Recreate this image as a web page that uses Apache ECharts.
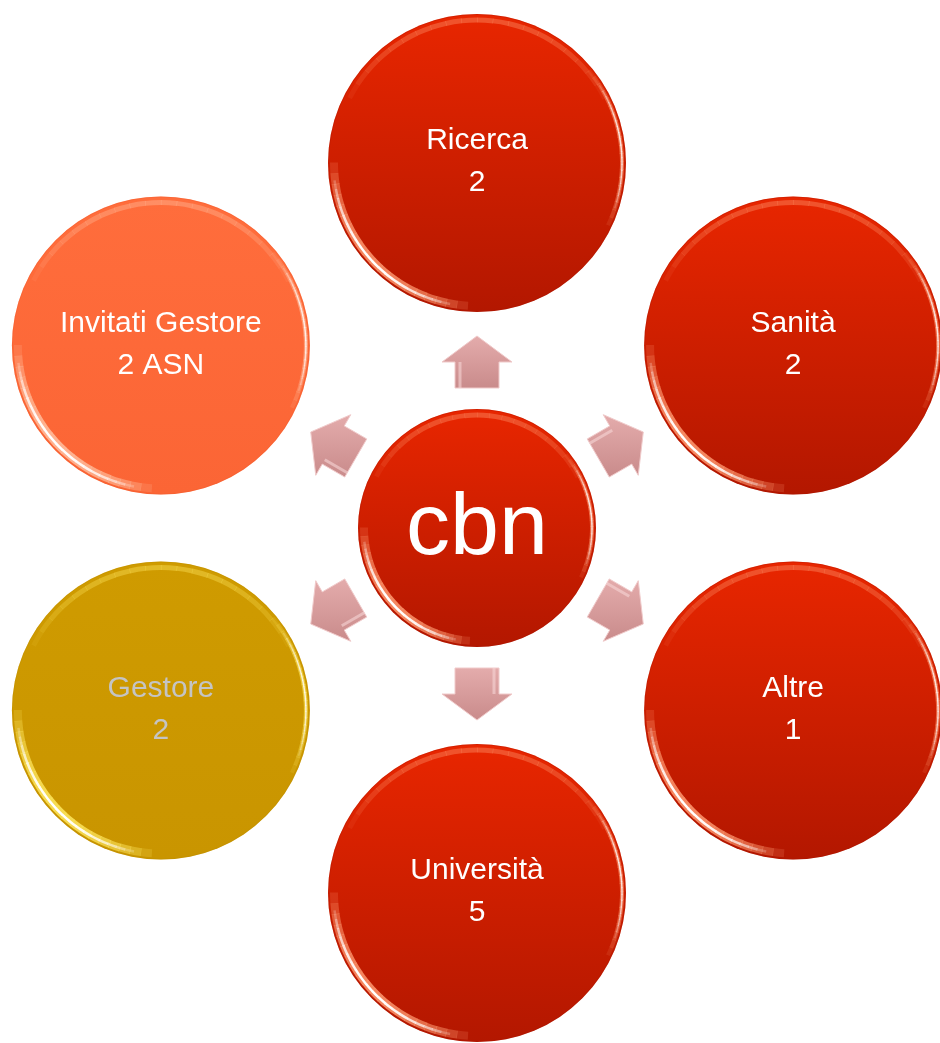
<!DOCTYPE html>
<html><head><meta charset="utf-8">
<script src="https://cdn.jsdelivr.net/npm/echarts@6/dist/echarts.min.js"></script>
<style>html,body{margin:0;padding:0;background:#fff}#c{width:940px;height:1043px}</style>
</head><body><div id="c"></div>
<script>
// ---- data ----
const centerLabel = 'cbn';
const categories = ['Ricerca', 'Sanità', 'Altre', 'Università', 'Gestore', 'Invitati Gestore'];
const values = [2, 2, 1, 5, 2, 2];
const valueSuffix = ['', '', '', '', '', ' ASN'];
const groups = ['red', 'red', 'red', 'red', 'gold', 'orange'];

// ---- styles ----
const palette = {
  red:    { top: '#e82600', bottom: '#b31700', text: '#ffffff', rim: '#ff9a70', edge: '#a81500' },
  orange: { top: '#ff6d3c', bottom: '#fb6535', text: '#ffffff', rim: '#ffc0a0', edge: '#f05a2a' },
  gold:   { top: '#cf9b00', bottom: '#c99500', text: '#c4c4c4', rim: '#ffe860', edge: '#b88a00' }
};
const FONT = '"Liberation Sans", Arial, sans-serif';
const n = categories.length;
const OUTER_R = 149, INNER_R = 119;

function glossArc(out, cx, cy, r, a0, a1, color, maxOp, lw) {
  const segs = 20;
  for (let k = 0; k < segs; k++) {
    const t = (k + 0.5) / segs;
    const op = maxOp * Math.pow(Math.sin(Math.PI * t), 0.6);
    out.push({ type: 'arc', shape: { cx, cy, r, startAngle: a0 + (a1 - a0) * k / segs, endAngle: a0 + (a1 - a0) * (k + 1) / segs + 0.004 },
      style: { stroke: color, lineWidth: lw, opacity: op, fill: null } });
  }
}

function bubble(cx, cy, r, pal) {
  const ch = [
    { type: 'circle', shape: { cx, cy, r },
      style: { fill: new echarts.graphic.LinearGradient(0, 0, 0, 1, [
        { offset: 0, color: pal.top }, { offset: 1, color: pal.bottom }]) } }
  ];
  const P = Math.PI;
  // top inner glow
  glossArc(ch, cx, cy, r - 6, P * 1.15, P * 1.85, pal.rim, 0.4, 5);
  // lower-left glossy halo + white line
  glossArc(ch, cx, cy, r - 6, P * 0.52, P * 1.0, pal.rim, 0.85, 8);
  glossArc(ch, cx, cy, r - 5.5, P * 0.56, P * 0.96, '#ffffff', 1.0, 2.5);
  // right edge highlight
  glossArc(ch, cx, cy, r - 4, -P * 0.22, P * 0.14, pal.rim, 0.6, 4);
  glossArc(ch, cx, cy, r - 4, -P * 0.18, P * 0.1, '#ffffff', 0.8, 1.5);
  // outer edge darkening
  ch.push({ type: 'circle', shape: { cx, cy, r: r - 0.5 }, style: { fill: null, stroke: pal.edge, lineWidth: 1, opacity: 0.3 } });
  return ch;
}

const chart = echarts.init(document.getElementById('c'), null, { renderer: 'canvas' });
const hidden = { axisLine: { show: false }, axisTick: { show: false }, axisLabel: { show: false }, splitLine: { show: false } };

const outerData = categories.map((c, i) => [1, i * 360 / n, i]);
const arrowData = categories.map((c, i) => [i * 360 / n]);

chart.setOption({
  backgroundColor: '#ffffff',
  animation: false,
  polar: { center: [477, 528], radius: 365 },
  radiusAxis: Object.assign({ type: 'value', min: 0, max: 1 }, hidden),
  angleAxis: Object.assign({ type: 'value', min: 0, max: 360, startAngle: 90, clockwise: true }, hidden),
  series: [
    { // arrows
      type: 'custom', coordinateSystem: 'polar', data: arrowData,
      renderItem: function (params, api) {
        const a = api.value(0);
        const S = api.coord([140 / 365, a]);
        const T = api.coord([192 / 365, a]);
        const L = Math.hypot(T[0] - S[0], T[1] - S[1]);
        const u = [(T[0] - S[0]) / L, (T[1] - S[1]) / L];
        const v = [-u[1], u[0]];
        const H = [S[0] + u[0] * 26, S[1] + u[1] * 26];
        const p = (B, k) => [B[0] + v[0] * k, B[1] + v[1] * k];
        const pts = [p(S, 22), p(H, 22), p(H, 35), T, p(H, -35), p(H, -22), p(S, -22)];
        return { type: 'group', children: [
          { type: 'polygon', shape: { points: pts },
            style: { fill: new echarts.graphic.LinearGradient(0, 0, 0, 1, [
              { offset: 0, color: '#e4acac' }, { offset: 1, color: '#c98b8b' }]),
              stroke: '#f0caca', lineWidth: 1 } },
          { type: 'polyline', shape: { points: [p(S, -17), p(H, -17)] },
            style: { stroke: '#f6d6d6', lineWidth: 3, opacity: 0.6 } }
        ] };
      }
    },
    { // outer circles
      type: 'custom', coordinateSystem: 'polar', data: outerData,
      renderItem: function (params, api) {
        const i = api.value(2);
        const pt = api.coord([api.value(0), api.value(1)]);
        const pal = palette[groups[i]];
        const ch = bubble(pt[0], pt[1], OUTER_R, pal);
        ch.push({ type: 'text', style: { text: categories[i], x: pt[0], y: pt[1] - 22,
          textAlign: 'center', textVerticalAlign: 'middle', fill: pal.text, fontSize: 30, fontFamily: FONT } });
        ch.push({ type: 'text', style: { text: String(values[i]) + valueSuffix[i], x: pt[0], y: pt[1] + 20,
          textAlign: 'center', textVerticalAlign: 'middle', fill: pal.text, fontSize: 30, fontFamily: FONT } });
        return { type: 'group', children: ch };
      }
    },
    { // center circle
      type: 'custom', coordinateSystem: 'polar', data: [[0, 0]],
      renderItem: function (params, api) {
        const pt = api.coord([0, 0]);
        const ch = bubble(pt[0], pt[1], INNER_R, palette.red);
        ch.push({ type: 'text', style: { text: centerLabel, x: pt[0], y: pt[1] + 2,
          textAlign: 'center', textVerticalAlign: 'middle', fill: '#ffffff', fontSize: 88, fontFamily: FONT } });
        return { type: 'group', children: ch };
      }
    }
  ]
});
</script>
</body></html>
